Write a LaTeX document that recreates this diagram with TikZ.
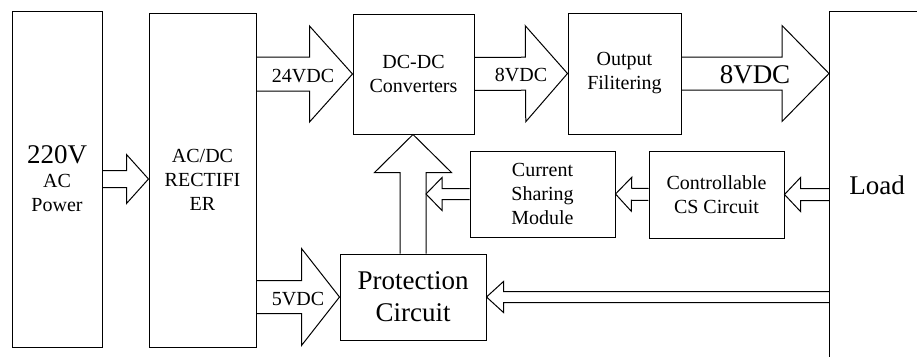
\documentclass[tikz,border=0pt]{standalone}
\usepackage{fontspec}
\setmainfont{Liberation Serif}
\usetikzlibrary{calc}

\newcommand{\smalltxt}{\fontsize{20}{24}\selectfont}
\newcommand{\bigtxt}{\fontsize{27}{32}\selectfont}

% block arrow: tail, tip, shaft half width, head half width, head length
\newcommand{\blockarrow}[5]{%
  \coordinate (hd) at ($(#2)!#5pt!(#1)$);
  \draw[fat] ($(#1)!#3pt!90:(#2)$) -- ($(hd)!#3pt!-90:(#1)$) -- ($(hd)!#4pt!-90:(#1)$) -- (#2)
    -- ($(hd)!#4pt!90:(#1)$) -- ($(hd)!#3pt!90:(#1)$) -- ($(#1)!#3pt!-90:(#2)$);
}

\begin{document}
\begin{tikzpicture}[
    x=1pt, y=-1pt,
    box/.style={
        draw,
        line width=1pt,
        inner sep=0pt,
        align=center,
        font=\smalltxt
    },
    lbl/.style={inner sep=0pt, font=\smalltxt},
    fat/.style={line width=1pt, line join=miter}
]
\clip (0,0) rectangle (917,356);

% Boxes
\node[box, minimum width=90pt, minimum height=336pt] (power) at (57,179) {{\bigtxt 220V}\\AC\\Power};
\node[box, minimum width=107pt, minimum height=334pt] (rect) at (202.5,180) {AC/DC\\RECTIFI\\ER};
\node[box, minimum width=121pt, minimum height=120pt] (dcdc) at (413.5,74) {DC-DC\\Converters};
\node[box, minimum width=113pt, minimum height=121pt] (filter) at (624.5,73.5) {Output\\Filitering};
\node[box, minimum width=145pt, minimum height=86pt] (share) at (542.5,194) {Current\\Sharing\\Module};
\node[box, minimum width=135pt, minimum height=87pt] (ctrl) at (716.5,194.5) {Controllable\\CS Circuit};
\node[box, minimum width=146pt, minimum height=86pt, font=\bigtxt] (prot) at (413,297) {Protection\\Circuit};
\node[box, minimum width=120pt, minimum height=380pt, anchor=north west] (load) at (829,11) {};
\node[lbl, font=\bigtxt] (loadtxt) at (877,185) {Load};

% Forward path
\blockarrow{power.east}{rect.west |- power.east}{8.5}{24.5}{22}
\blockarrow{rect.east |- dcdc.west}{dcdc.west}{17}{48}{43}
\blockarrow{dcdc.east}{filter.west}{16.5}{48}{42}
\blockarrow{filter.east}{load.west |- filter.east}{16.5}{48}{47}
\blockarrow{rect.east |- prot.west}{prot.west}{16.5}{48.5}{38}
\blockarrow{prot.north}{prot.north |- dcdc.south}{13}{38.5}{38}

% Feedback from load
\coordinate (upR) at ($(prot.north)+(13,0)$);
\blockarrow{share.west}{upR |- share.west}{5.5}{16.5}{16}
\blockarrow{ctrl.west}{share.east}{6}{17}{16}
\blockarrow{load.west |- ctrl.east}{ctrl.east}{6}{17}{16}
\blockarrow{load.west |- prot.east}{prot.east}{5.5}{15.5}{17}

% Voltage labels
\node[lbl] (v24) at (303,76) {24VDC};
\node[lbl] (v8) at (521,75) {8VDC};
\node[lbl, font=\bigtxt] (v8out) at (755,75) {8VDC};
\node[lbl] (v5) at (298,299) {5VDC};

\end{tikzpicture}
\end{document}
